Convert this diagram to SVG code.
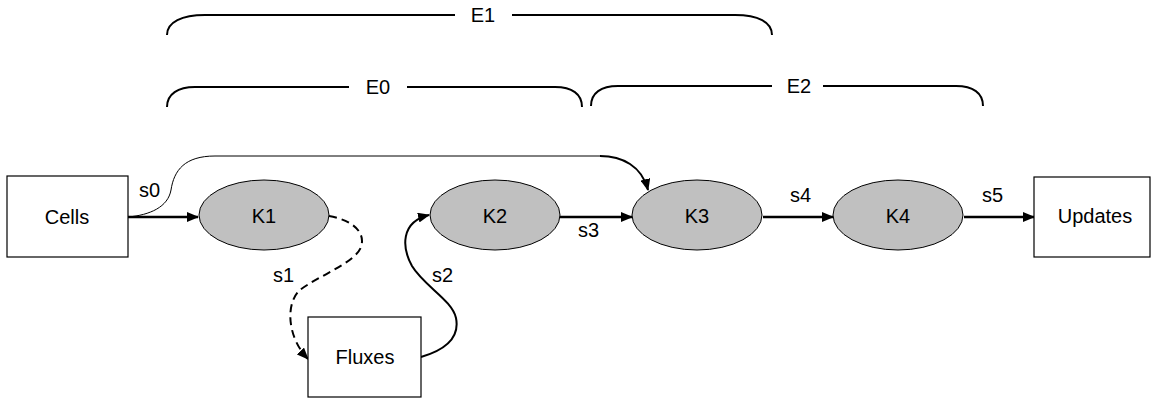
<svg xmlns="http://www.w3.org/2000/svg" width="1154" height="399" viewBox="0 0 1154 399">
<defs>
<marker id="ah" viewBox="0 0 12 10" refX="11" refY="5" markerWidth="12" markerHeight="10" markerUnits="userSpaceOnUse" orient="auto">
<path d="M0,0 L12,5 L0,10 Z" fill="#000"/>
</marker>
<style>
.box{fill:#fff;stroke:#000;stroke-width:1.2}
.ell{fill:#c0c0c0;stroke:#000;stroke-width:1}
.lbl{font-family:"Liberation Sans",Arial,sans-serif;font-size:20px;fill:#000;text-anchor:middle}
.sl{font-family:"Liberation Sans",Arial,sans-serif;font-size:20px;fill:#000}
.thick{fill:none;stroke:#000;stroke-width:2.5}
.mid{fill:none;stroke:#000;stroke-width:2}
.thin{fill:none;stroke:#000;stroke-width:1}
.dash{fill:none;stroke:#000;stroke-width:2;stroke-dasharray:8,5}
.br{fill:none;stroke:#000;stroke-width:2}
</style>
</defs>
<rect width="1154" height="399" fill="#fff"/>
<g id="brackets">
<path class="br" d="M167,35 C167,22 182,15 205,15 L455,15 M512,15 L735,15 C758,15 772,22 772,35"/>
<text class="lbl" x="483" y="22">E1</text>
<path class="br" d="M167,107 C167,94 178,87 195,87 L349,87 M407,87 L555,87 C572,87 582,94 582,107"/>
<text class="lbl" x="378" y="94">E0</text>
<path class="br" d="M591,106 C591,93 601,86 618,86 L772,86 M823,86 L956,86 C973,86 983,93 983,106"/>
<text class="lbl" x="799" y="93">E2</text>
</g>
<g id="connectors">
<path class="thick" d="M128,217 L198,217" marker-end="url(#ah)"/>
<path class="thin" d="M128,217 C150,215 168,207 171,190 C174,170 185,156 215,156 L600,156"/>
<path class="mid" d="M600,156 C622,156 642,166 648,190" marker-end="url(#ah)"/>
<path class="dash" d="M329,216 C352,220 366,232 361,247 C355,263 318,276 300,290 C286,302 286,336 308,359" marker-end="url(#ah)"/>
<path class="mid" d="M421,357 C445,350 460,338 456,318 C452,300 424,286 412,266 C402,248 400,222 429,215" marker-end="url(#ah)"/>
<path class="thick" d="M560,217 L632,217" marker-end="url(#ah)"/>
<path class="thick" d="M763,217 L833,217" marker-end="url(#ah)"/>
<path class="thick" d="M964,217 L1034,217" marker-end="url(#ah)"/>
<text class="sl" x="139" y="197">s0</text>
<text class="sl" x="273" y="282">s1</text>
<text class="sl" x="432" y="282">s2</text>
<text class="sl" x="578" y="237">s3</text>
<text class="sl" x="790" y="202">s4</text>
<text class="sl" x="982" y="202">s5</text>
</g>
<g id="cells"><rect class="box" x="7" y="176" width="121" height="81"/><text class="lbl" x="67" y="224">Cells</text></g>
<g id="k1"><ellipse class="ell" cx="264" cy="215" rx="65" ry="35"/><text class="lbl" x="264" y="223">K1</text></g>
<g id="k2"><ellipse class="ell" cx="495" cy="215" rx="65" ry="35"/><text class="lbl" x="495" y="223">K2</text></g>
<g id="k3"><ellipse class="ell" cx="697" cy="215" rx="65" ry="35"/><text class="lbl" x="697" y="223">K3</text></g>
<g id="k4"><ellipse class="ell" cx="898" cy="215" rx="65" ry="35"/><text class="lbl" x="898" y="223">K4</text></g>
<g id="updates"><rect class="box" x="1034" y="177" width="116" height="80"/><text class="lbl" x="1095" y="223">Updates</text></g>
<g id="fluxes"><rect class="box" x="308" y="317" width="113" height="80"/><text class="lbl" x="365" y="364">Fluxes</text></g>
</svg>
